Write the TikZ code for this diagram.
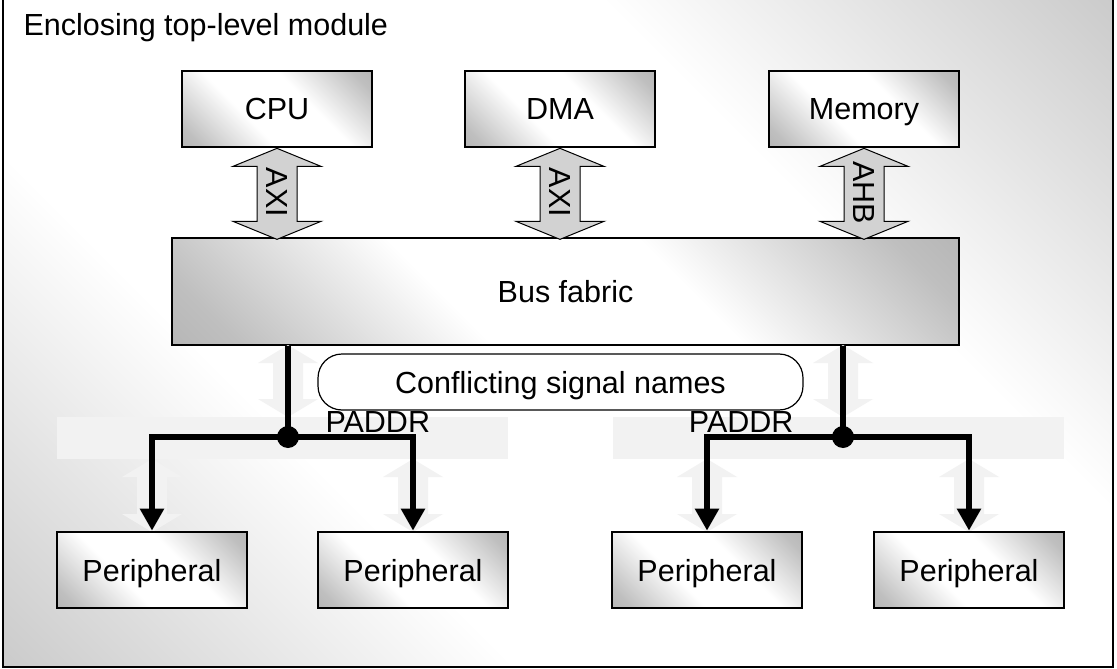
\documentclass[tikz,border=0pt]{standalone}
\usepackage{fontspec}
\setmainfont{Liberation Sans}
\usetikzlibrary{arrows.meta}
\pgfdeclareverticalshading{diagband}{100bp}{color(0bp)=(gray!65); color(15bp)=(gray!40); color(35bp)=(white); color(65bp)=(white); color(85bp)=(gray!40); color(100bp)=(gray!65)}
\pgfdeclareverticalshading{boxband}{100bp}{color(0bp)=(gray!75); color(20bp)=(gray!50); color(40bp)=(white); color(60bp)=(white); color(80bp)=(gray!50); color(100bp)=(gray!75)}
\tikzstyle{backdrop}=[shading=diagband, shading angle=-45]
\tikzstyle{block}=[draw, line width=2.7pt, minimum width=190pt, minimum height=76pt, inner sep=0pt, text height=22pt, text depth=0pt, shade, shading=boxband, shading angle=-45]
\tikzstyle{fabric}=[draw, line width=2.7pt, minimum width=787pt, minimum height=107pt, inner sep=0pt, text height=22pt, text depth=0pt, shade, shading=boxband, shading angle=-45]
\tikzstyle{busarrow}=[draw=black, line width=1pt, fill=gray!35]
\tikzstyle{ghost}=[fill=gray!10]
\tikzstyle{wire}=[line width=5.5pt]
\tikzstyle{dot}=[circle, fill=black, minimum size=22pt, inner sep=0pt]
\tikzstyle{bubble}=[draw, line width=1.2pt, rounded corners=24pt, fill=white, minimum width=485pt, minimum height=56pt, text height=22pt, text depth=0pt]

% block arrow: tip, shaft length, half head, half shaft, style
\newcommand{\blockarrow}[5]{%
  \path[#5] (#1) -- ++(#3,18) -- ++(#4-#3,0) -- ++(0,#2) -- ++(#3-#4,0) -- ++(-#3,18)
    -- ++(-#3,-18) -- ++(#3-#4,0) -- ++(0,-#2) -- ++(#4-#3,0) -- cycle;}

\begin{document}
\begin{tikzpicture}[x=1pt, y=-1pt, font=\fontsize{30.5}{36}\selectfont,
    tip/.style={-{Triangle[length=22pt,width=23pt]}}]
  \useasboundingbox (0,0) rectangle (1117,669);
  \shade[backdrop] (3,-3) rectangle (1113,667);
  \draw[line width=2pt] (3,-3) rectangle (1113,667);
  \node[anchor=base west] (title) at (20,36) {Enclosing top-level module};

  % masters and fabric
  \node[block] (cpu) at (277,109) {CPU};
  \node[block] (dma) at (560,109) {DMA};
  \node[block] (mem) at (864,109) {Memory};
  \node[fabric] (bus) at (565.5,291.5) {Bus fabric};

  \blockarrow{cpu.south}{55}{44}{20}{busarrow}
  \blockarrow{dma.south}{55}{44}{20}{busarrow}
  \blockarrow{mem.south}{55}{44}{20}{busarrow}
  \path (cpu.south) -- (cpu.south |- bus.north) node[midway, rotate=-90] (axi1) {AXI};
  \path (dma.south) -- (dma.south |- bus.north) node[midway, rotate=-90] (axi2) {AXI};
  \path (mem.south) -- (mem.south |- bus.north) node[midway, rotate=-90] (ahb) {AHB};

  % faded APB hints
  \fill[ghost] (57,417) rectangle (508,459);
  \fill[ghost] (613,417) rectangle (1064,459);
  \coordinate (g1) at (288,345);
  \coordinate (g2) at (843,345);
  \blockarrow{g1}{36}{30}{15}{ghost}
  \blockarrow{g2}{36}{30}{15}{ghost}
  \foreach \gx in {152,413,707,969}{
    \blockarrow{\gx,459}{37}{30}{15}{ghost}
  }

  \node[bubble] (conflict) at (560.5,382) {Conflicting signal names};

  % peripherals
  \node[block] (p1) at (152,570) {Peripheral};
  \node[block] (p2) at (413,570) {Peripheral};
  \node[block] (p3) at (707,570) {Peripheral};
  \node[block] (p4) at (969,570) {Peripheral};

  \node[dot] (j1) at (288,437) {};
  \node[dot] (j2) at (843,437) {};
  \draw[wire] (j1 |- bus.south) -- (j1.center);
  \draw[wire] (j2 |- bus.south) -- (j2.center);
  \draw[wire, tip] (j1.center) -| (p1.north);
  \draw[wire, tip] (j1.center) -| (p2.north);
  \draw[wire, tip] (j2.center) -| (p3.north);
  \draw[wire, tip] (j2.center) -| (p4.north);
  \node[anchor=base west] (paddr1) at (322,432) {PADDR};
  \node[anchor=base east] (paddr2) at (797,432) {PADDR};
\end{tikzpicture}
\end{document}
